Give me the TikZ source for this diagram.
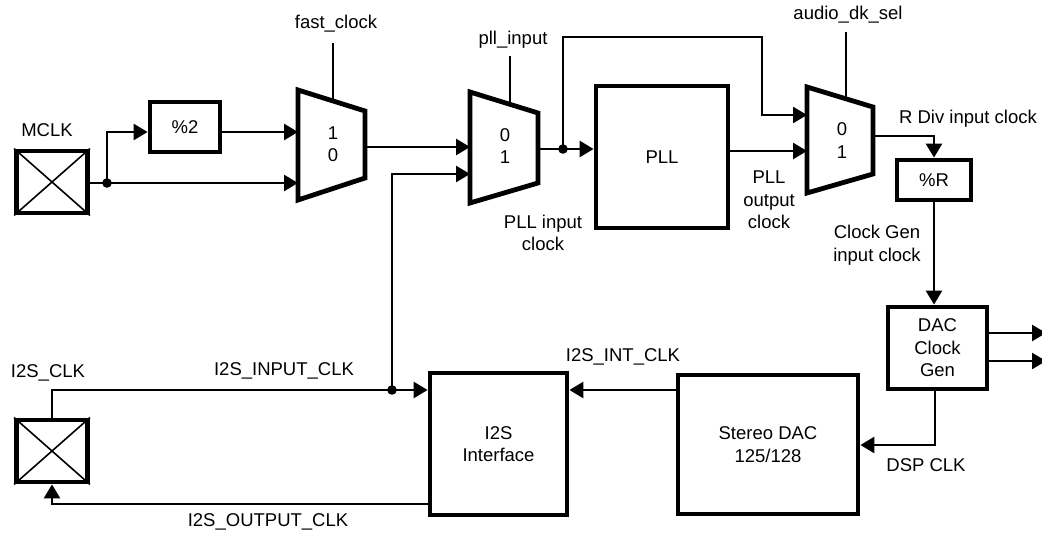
\documentclass[tikz,border=0pt]{standalone}
\usepackage{fontspec}
\setmainfont{Liberation Sans}
\usetikzlibrary{arrows.meta}
\begin{document}
\begin{tikzpicture}[x=1pt,y=-1pt,
  every node/.style={font=\fontsize{18.5}{22.5}\selectfont,inner sep=0pt},
  conn/.style={line width=2.7pt},
  arr/.style={conn,-{Triangle[length=14pt,width=16pt]}},
  blk/.style={draw,line width=4.8pt,align=center},
  mux/.style={draw,line width=4.8pt,line join=miter},
  xline/.style={line width=1.6pt},
  lbl/.style={align=center}]
\clip (0,0) rectangle (1042,534);
\useasboundingbox (0,0) rectangle (1042,534);

% blocks
\node[blk,minimum width=71pt,minimum height=62pt] (mclk) at (52,182) {};
\node[blk,minimum width=70pt,minimum height=50pt] (div2) at (185,127) {\%2};
\node[blk,minimum width=132pt,minimum height=142pt] (pll) at (662,157) {PLL};
\node[blk,minimum width=74pt,minimum height=40pt] (divR) at (934,180) {\%R};
\node[blk,minimum width=99pt,minimum height=82pt] (dacgen) at (937.5,348) {DAC\\Clock\\Gen};
\node[blk,minimum width=180pt,minimum height=139pt] (sdac) at (768,444.5) {Stereo DAC\\125/128};
\node[blk,minimum width=137pt,minimum height=142pt] (i2s) at (498.5,444) {I2S\\Interface};
\node[blk,minimum width=71pt,minimum height=62pt] (i2spad) at (52,451) {};

\draw[xline] (mclk.north west) -- (mclk.south east) (mclk.north east) -- (mclk.south west);
\draw[xline] (i2spad.north west) -- (i2spad.south east) (i2spad.north east) -- (i2spad.south west);

% muxes
\draw[mux] (298,90) -- (365,111) -- (365,178) -- (298,200) -- cycle;
\draw[mux] (470,92) -- (538,113) -- (538,183) -- (470,203) -- cycle;
\draw[mux] (807,87) -- (873,107) -- (873,174) -- (807,193) -- cycle;
\node (m1a) at (333,133) {1};
\node (m1b) at (333,155) {0};
\node (m2a) at (505,135) {0};
\node (m2b) at (505,157) {1};
\node (m3a) at (842,129) {0};
\node (m3b) at (842,152) {1};

% mux selects
\coordinate (s1t) at (333,43);  \coordinate (s1b) at (333,101);
\coordinate (s2t) at (510,56);  \coordinate (s2b) at (510,104);
\coordinate (s3t) at (846,32);  \coordinate (s3b) at (846,99);
\draw[conn] (s1t) -- (s1b);
\draw[conn] (s2t) -- (s2b);
\draw[conn] (s3t) -- (s3b);

% connector points
\coordinate (j1) at (107,183);
\coordinate (m1in0) at (298,183);
\coordinate (m1in1) at (298,132);
\coordinate (m1out) at (365,147);
\coordinate (m2in0) at (470,147);
\coordinate (m2in1) at (470,174);
\coordinate (m2out) at (538,149);
\coordinate (j3) at (563,149);
\coordinate (t2) at (762,37);
\coordinate (m3in0) at (807,115);
\coordinate (m3in1) at (807,151);
\coordinate (m3out) at (873,136);
\coordinate (j2) at (392,390);
\coordinate (o1a) at (1046,333);
\coordinate (o1b) at (1046,361);
\coordinate (d1) at (935,445);
\coordinate (i2a) at (0,390);
\coordinate (o2) at (0,504);

\draw[conn] (mclk.east |- j1) -- (j1);
\draw[arr] (j1) -- (m1in0);
\draw[arr] (j1) |- (div2.west |- m1in1);
\draw[arr] (div2.east |- m1in1) -- (m1in1);
\draw[arr] (m1out) -- (m2in0);
\draw[arr] (j2) |- (m2in1);
\draw[conn] (m2out) -- (j3);
\draw[arr] (j3) -- (pll.west |- j3);
\draw[arr] (j3) |- (t2) |- (m3in0);
\draw[arr] (pll.east |- m3in1) -- (m3in1);
\draw[arr] (m3out) -| (divR.north);
\draw[arr] (divR.south) -- (divR.south |- dacgen.north);
\draw[arr] (dacgen.east |- o1a) -- (o1a);
\draw[arr] (dacgen.east |- o1b) -- (o1b);
\draw[arr] (dacgen.south -| d1) -- (d1) -- (sdac.east |- d1);
\draw[arr] (sdac.west |- i2a) -- (i2s.east |- i2a);
\draw[arr] (i2spad.north) |- (i2s.west |- j2);
\draw[arr] (i2s.west |- o2) -| (i2spad.south);

\fill (j1) circle (4.8pt);
\fill (j2) circle (4.8pt);
\fill (j3) circle (4.8pt);

% labels
\node (lmclk) at (47,130) {MCLK};
\node (lfast) at (336,24) {fast\_clock};
\node (lpllin) at (513,40) {pll\_input};
\node (laudio) at (848,15) {audio\_dk\_sel};
\node (lrdiv) at (968,119) {R Div input clock};
\node[lbl] (lpllout) at (769,200) {PLL\\output\\clock};
\node[lbl] (lpllic) at (543,233) {PLL input\\clock};
\node[lbl] (lcg) at (877,245) {Clock Gen\\input clock};
\node (ldsp) at (926,465) {DSP CLK};
\node (lint) at (623,357) {I2S\_INT\_CLK};
\node (linp) at (284,371) {I2S\_INPUT\_CLK};
\node (li2sclk) at (48,373) {I2S\_CLK};
\node (lout) at (268,522) {I2S\_OUTPUT\_CLK};
\end{tikzpicture}
\end{document}
